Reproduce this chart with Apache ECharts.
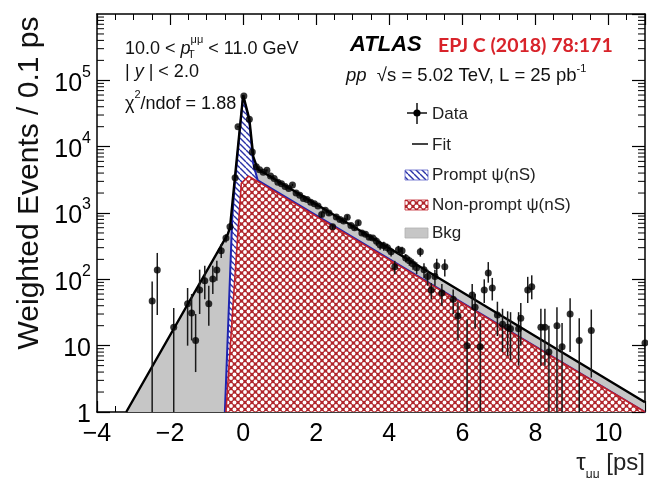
<!DOCTYPE html>
<html>
<head>
<meta charset="utf-8">
<script src="https://cdn.jsdelivr.net/npm/echarts@6/dist/echarts.min.js"></script>
<style>
  html, body { margin: 0; padding: 0; background: #fff; }
  #chart { width: 648px; height: 478px; }
</style>
</head>
<body>
<div id="chart"></div>
<script>
// Fit components (knots of the drawn curves, log-linear between knots)
const fitX        = [-3.2, -0.42, -0.36, -0.23, 0.0, 0.17, 0.28, 0.4, 11.0];
const fitY        = [1.0, 480, 600, 3200, 60000, 26000, 7000, 4600, 1.4];
const promptTopX  = [-0.5, -0.3, -0.23, 0.0, 0.17, 0.28, 0.4, 11.0];
const promptTopY  = [1.0, 800, 2700, 58000, 24000, 5500, 3100, 1.0];
const nonPromptX  = [-0.47, -0.26, -0.05, 0.15, 11.0];
const nonPromptY  = [1.0, 56, 2800, 3600, 1.0];

// Data points with asymmetric error bars
const dataX = [
  -2.49, -2.35, -1.90, -1.52, -1.41, -1.30, -1.19, -1.05, -0.94, -0.83, -0.72, -0.60, -0.47, -0.36,
  -0.22, -0.14, 0.02, 0.17, 0.25, 0.36,
  0.45, 0.55, 0.65, 0.75, 0.85, 0.95, 1.05, 1.15, 1.25, 1.35, 1.45, 1.55, 1.65, 1.75, 1.85, 1.95,
  2.05, 2.15, 2.25, 2.35, 2.45, 2.55, 2.65, 2.75, 2.85, 2.95, 3.05, 3.15, 3.25, 3.35, 3.45, 3.55,
  3.65, 3.75, 3.85, 3.95, 4.05, 4.15, 4.25, 4.35, 4.45, 4.55, 4.65, 4.75, 4.85, 4.95, 5.05, 5.15, 5.25,
  5.30, 5.44, 5.52, 5.75, 5.88, 6.13, 6.27, 6.35, 6.49, 6.60, 6.71, 6.82, 6.96, 7.10, 7.24, 7.32,
  7.54, 7.60, 7.79, 7.90, 8.15, 8.26, 8.37, 8.59, 8.73, 8.95, 9.20, 9.53, 11.0
];
const dataY = [
  47, 138, 19, 43, 31, 12, 69, 95, 43, 101, 138, 270, 420, 620,
  3400, 20000, 58000, 26000, 8300, 5000,
  4500, 4100, 4400, 3600, 3300, 2900, 2750, 2500, 2350, 2650, 2000, 1850, 1650, 1600, 1450, 1380,
  1280, 950, 1100, 1000, 620, 870, 800, 760, 860, 650, 600, 710, 500, 480, 430, 420,
  375, 330, 320, 300, 260, 155, 280, 270, 210, 190, 170, 150, 260, 140, 110, 69, 110,
  160, 62, 155, 50, 28, 10, 58, 38, 9.6, 69, 125, 74, 29, 21, 19, 18,
  18, 26, 69, 77, 19, 19, 8, 20, 9.6, 30, 12, 17, 11
];
const errLo = [
  0.5, 29, 0.5, 10, 12, 4, 30, 50, 20, 60, 95, 210, 360, 560,
  3250, 19500, 57000, 25400, 8050, 4800,
  4320, 3940, 4220, 3460, 3170, 2780, 2640, 2400, 2260, 2540, 1920, 1780, 1580, 1540, 1390, 1320,
  1230, 870, 1050, 920, 570, 800, 740, 700, 790, 600, 550, 650, 460, 440, 395, 385,
  320, 280, 270, 255, 220, 120, 240, 230, 180, 160, 140, 120, 220, 105, 80, 50, 80,
  115, 40, 110, 30, 12, 0.5, 35, 18, 0.5, 44, 89, 48, 14, 8, 7, 6,
  5, 10, 44, 50, 5, 5, 0.5, 0.5, 0.5, 8, 0.5, 3.3, 2
];
const errHi = [
  93, 250, 37, 74, 60, 30, 140, 160, 80, 160, 190, 340, 480, 690,
  3550, 20500, 59000, 26600, 8550, 5200,
  4680, 4260, 4580, 3740, 3430, 3020, 2860, 2600, 2440, 2760, 2080, 1920, 1720, 1660, 1510, 1440,
  1330, 1030, 1150, 1080, 670, 940, 860, 820, 930, 700, 650, 770, 540, 520, 465, 455,
  430, 380, 370, 345, 300, 190, 320, 310, 240, 220, 200, 180, 300, 175, 140, 88, 140,
  205, 85, 200, 70, 45, 25, 85, 60, 24, 100, 182, 105, 46, 36, 33, 32,
  32, 44, 109, 115, 36, 36, 20, 38, 22, 52, 26, 35, 22
];

const X_MIN = -4, X_MAX = 11, Y_MIN = 1, Y_MAX = 1e6;
const FONT = '"Liberation Sans", Arial, Helvetica, sans-serif';

function pairs(xs, ys) { return xs.map((x, i) => [x, ys[i]]); }

// Fill patterns
function redMesh() {
  const s = 7;
  const c = document.createElement('canvas');
  c.width = s; c.height = s;
  const g = c.getContext('2d');
  g.fillStyle = '#b0262c';
  g.fillRect(0, 0, s, s);
  g.fillStyle = '#ffffff';
  [[0, 0], [s, 0], [0, s], [s, s], [s / 2, s / 2]].forEach(([x, y]) => {
    g.beginPath(); g.arc(x, y, 1.9, 0, Math.PI * 2); g.fill();
  });
  return c;
}
function blueHatch() {
  const c = document.createElement('canvas');
  c.width = 6; c.height = 6;
  const g = c.getContext('2d');
  g.fillStyle = '#ffffff';
  g.fillRect(0, 0, 6, 6);
  g.strokeStyle = '#2a32a8';
  g.lineWidth = 1.4;
  [-6, 0, 6].forEach(k => {
    g.beginPath(); g.moveTo(k, 0); g.lineTo(k + 6, 6); g.stroke();
  });
  return c;
}
const redPattern = { image: redMesh(), repeat: 'repeat' };
const bluePattern = { image: blueHatch(), repeat: 'repeat' };
const redPattern2 = { image: redMesh(), repeat: 'repeat' };
const bluePattern2 = { image: blueHatch(), repeat: 'repeat' };

// Minor tick values for the log axis (2..9 in each decade)
const minorLogTicks = [];
for (let e = 0; e < 6; e++) for (let m = 2; m <= 9; m++) minorLogTicks.push([X_MIN, m * Math.pow(10, e)]);

const chart = echarts.init(document.getElementById('chart'), null, { renderer: 'canvas' });

const axisLineStyle = { lineStyle: { color: '#000', width: 1.5 } };

const option = {
  animation: false,
  backgroundColor: '#fff',
  grid: { left: 97, top: 14, width: 548, height: 398, show: false },
  xAxis: [
    {
      type: 'value', min: X_MIN, max: X_MAX, interval: 2, position: 'bottom',
      axisLine: { show: true, onZero: false, ...axisLineStyle },
      axisTick: { show: true, inside: true, length: 11, lineStyle: { color: '#000', width: 1.2 } },
      minorTick: { show: true, splitNumber: 4, length: 6, lineStyle: { color: '#000', width: 1 } },
      splitLine: { show: false },
      axisLabel: {
        margin: 10, fontFamily: FONT, fontSize: 25, color: '#000', showMaxLabel: false,
        formatter: v => (v < 0 ? '\u2212' + Math.abs(v) : String(v))
      }
    },
    {
      type: 'value', min: X_MIN, max: X_MAX, interval: 2, position: 'top',
      axisLine: { show: true, onZero: false, ...axisLineStyle },
      axisTick: { show: true, inside: true, length: 11, lineStyle: { color: '#000', width: 1.2 } },
      minorTick: { show: true, splitNumber: 4, length: 6, lineStyle: { color: '#000', width: 1 } },
      splitLine: { show: false },
      axisLabel: { show: false }
    }
  ],
  yAxis: [
    {
      type: 'log', logBase: 10, min: Y_MIN, max: Y_MAX, interval: 1, position: 'left',
      axisLine: { show: true, onZero: false, ...axisLineStyle },
      axisTick: { show: true, inside: true, length: 13, lineStyle: { color: '#000', width: 1.2 } },
      splitLine: { show: false },
      axisLabel: {
        margin: 6, color: '#000', showMaxLabel: false,
        formatter: v => {
          const e = Math.round(Math.log10(v));
          if (e === 0) return '{b|1}';
          if (e === 1) return '{b|10}';
          return '{b|10}{s|' + e + '}';
        },
        rich: {
          b: { fontFamily: FONT, fontSize: 25, color: '#000', lineHeight: 32, verticalAlign: 'bottom' },
          s: { fontFamily: FONT, fontSize: 16, color: '#000', lineHeight: 18, verticalAlign: 'top' }
        }
      }
    },
    {
      type: 'log', logBase: 10, min: Y_MIN, max: Y_MAX, interval: 1, position: 'right',
      axisLine: { show: true, onZero: false, ...axisLineStyle },
      axisTick: { show: true, inside: true, length: 13, lineStyle: { color: '#000', width: 1.2 } },
      splitLine: { show: false },
      axisLabel: { show: false }
    }
  ],
  series: [
    {
      name: 'Bkg', type: 'line', data: pairs(fitX, fitY), symbol: 'none', z: 1,
      lineStyle: { width: 0 },
      areaStyle: { color: '#c6c6c6', opacity: 1, origin: 1 },
      silent: true
    },
    {
      name: 'Prompt ψ(nS)', type: 'line', data: pairs(promptTopX, promptTopY), symbol: 'none', z: 2,
      lineStyle: { color: '#1d24b0', width: 2 },
      areaStyle: { color: bluePattern, opacity: 1, origin: 1 },
      silent: true
    },
    {
      name: 'Non-prompt ψ(nS)', type: 'line', data: pairs(nonPromptX, nonPromptY), symbol: 'none', z: 3,
      lineStyle: { color: '#c0202a', width: 1.6 },
      areaStyle: { color: redPattern, opacity: 1, origin: 1 },
      silent: true
    },
    {
      name: 'Fit', type: 'line', data: pairs(fitX, fitY), symbol: 'none', z: 4,
      lineStyle: { color: '#000', width: 2.4 },
      silent: true
    },
    {
      name: 'Data errors', type: 'custom', z: 5, clip: true, silent: true,
      data: dataX.map((x, i) => [x, errLo[i], errHi[i]]),
      encode: { x: 0, y: [1, 2] },
      renderItem: (params, api) => {
        const lo = api.coord([api.value(0), api.value(1)]);
        const hi = api.coord([api.value(0), api.value(2)]);
        return {
          type: 'line',
          shape: { x1: lo[0], y1: lo[1], x2: hi[0], y2: hi[1] },
          style: { stroke: '#1a1a1a', lineWidth: 1.5 }
        };
      }
    },
    {
      name: 'Data', type: 'scatter', z: 6, clip: true, silent: true,
      data: pairs(dataX, dataY), symbol: 'circle', symbolSize: 7,
      itemStyle: { color: '#000' }
    },
    {
      name: 'minor ticks', type: 'custom', z: 7, silent: true,
      data: minorLogTicks,
      renderItem: (params, api) => {
        const l = api.coord([X_MIN, api.value(1)]);
        const r = api.coord([X_MAX, api.value(1)]);
        return {
          type: 'group',
          children: [
            { type: 'line', shape: { x1: l[0], y1: l[1], x2: l[0] + 7, y2: l[1] }, style: { stroke: '#000', lineWidth: 1 } },
            { type: 'line', shape: { x1: r[0] - 7, y1: r[1], x2: r[0], y2: r[1] }, style: { stroke: '#000', lineWidth: 1 } }
          ]
        };
      }
    }
  ],
  graphic: [
    // axis titles
    {
      type: 'text', x: 30, y: 183, rotation: Math.PI / 2, z: 100,
      style: { text: 'Weighted Events / 0.1 ps', font: '30px ' + FONT, fill: '#111', align: 'center', verticalAlign: 'middle' }
    },
    {
      type: 'text', x: 645, y: 466, z: 100,
      style: {
        text: '{n|τ}{u|μμ}{n| [ps]}', align: 'right', verticalAlign: 'middle',
        rich: {
          n: { fontFamily: FONT, fontSize: 24, fill: '#222', lineHeight: 30, verticalAlign: 'top' },
          u: { fontFamily: FONT, fontSize: 12, fill: '#222', lineHeight: 12, verticalAlign: 'bottom' }
        }
      }
    },
    // kinematic labels
    {
      type: 'text', x: 125, y: 46, z: 100,
      style: {
        text: '{n|10.0 < }{i|p}{s|μμ}{n| < 11.0 GeV}', align: 'left', verticalAlign: 'middle',
        rich: {
          n: { fontFamily: FONT, fontSize: 18, fill: '#111', lineHeight: 24, verticalAlign: 'bottom' },
          i: { fontFamily: FONT, fontSize: 18, fontStyle: 'italic', fill: '#111', lineHeight: 24, verticalAlign: 'bottom' },
          s: { fontFamily: FONT, fontSize: 11, fill: '#111', lineHeight: 12, verticalAlign: 'top' }
        }
      }
    },
    {
      type: 'text', x: 188, y: 55, z: 100,
      style: { text: 'T', font: '11px ' + FONT, fill: '#111', align: 'left', verticalAlign: 'middle' }
    },
    {
      type: 'text', x: 125, y: 72, z: 100,
      style: {
        text: '{n|| }{i|y}{n| | < 2.0}', align: 'left', verticalAlign: 'middle',
        rich: {
          n: { fontFamily: FONT, fontSize: 18, fill: '#111' },
          i: { fontFamily: FONT, fontSize: 18, fontStyle: 'italic', fill: '#111' }
        }
      }
    },
    {
      type: 'text', x: 125, y: 101, z: 100,
      style: {
        text: '{n|χ}{s|2}{n|/ndof = 1.88}', align: 'left', verticalAlign: 'middle',
        rich: {
          n: { fontFamily: FONT, fontSize: 18, fill: '#111', lineHeight: 24, verticalAlign: 'bottom' },
          s: { fontFamily: FONT, fontSize: 11, fill: '#111', lineHeight: 12, verticalAlign: 'top' }
        }
      }
    },
    {
      type: 'text', x: 350, y: 45, z: 100,
      style: { text: 'ATLAS', font: 'italic bold 22px ' + FONT, fill: '#000', align: 'left', verticalAlign: 'middle' }
    },
    {
      type: 'text', x: 438, y: 46, z: 100,
      style: { text: 'EPJ C (2018) 78:171', font: 'bold 19.5px Lato, "Open Sans", sans-serif', fill: '#d8232a', align: 'left', verticalAlign: 'middle' }
    },
    {
      type: 'text', x: 346, y: 74, z: 100,
      style: {
        text: '{i|pp}{n|  √s = 5.02 TeV, L = 25 pb}{s|-1}', align: 'left', verticalAlign: 'middle',
        rich: {
          n: { fontFamily: FONT, fontSize: 18.5, fill: '#111', lineHeight: 22, verticalAlign: 'bottom' },
          i: { fontFamily: FONT, fontSize: 18.5, fontStyle: 'italic', fill: '#111', lineHeight: 22, verticalAlign: 'bottom' },
          s: { fontFamily: FONT, fontSize: 11, fill: '#111', lineHeight: 12, verticalAlign: 'top' }
        }
      }
    },
    // legend
    { type: 'line', z: 100, shape: { x1: 407, y1: 113, x2: 427, y2: 113 }, style: { stroke: '#111', lineWidth: 1.5 } },
    { type: 'line', z: 100, shape: { x1: 417, y1: 103, x2: 417, y2: 124 }, style: { stroke: '#111', lineWidth: 1.5 } },
    { type: 'circle', z: 100, shape: { cx: 417, cy: 113, r: 3.6 }, style: { fill: '#000' } },
    { type: 'text', z: 100, x: 432, y: 114, style: { text: 'Data', font: '17px ' + FONT, fill: '#222', align: 'left', verticalAlign: 'middle' } },
    { type: 'line', z: 100, shape: { x1: 412, y1: 144, x2: 428, y2: 144 }, style: { stroke: '#444', lineWidth: 2 } },
    { type: 'text', z: 100, x: 432, y: 145, style: { text: 'Fit', font: '17px ' + FONT, fill: '#222', align: 'left', verticalAlign: 'middle' } },
    { type: 'rect', z: 100, shape: { x: 405, y: 170, width: 23, height: 10 }, style: { fill: bluePattern2, stroke: '#5a60c8', lineWidth: 0.8 } },
    { type: 'text', z: 100, x: 432, y: 175, style: { text: 'Prompt ψ(nS)', font: '17px ' + FONT, fill: '#222', align: 'left', verticalAlign: 'middle' } },
    { type: 'rect', z: 100, shape: { x: 405, y: 200, width: 23, height: 10 }, style: { fill: redPattern2, stroke: '#c0202a', lineWidth: 0.8 } },
    { type: 'text', z: 100, x: 432, y: 205, style: { text: 'Non-prompt ψ(nS)', font: '17px ' + FONT, fill: '#222', align: 'left', verticalAlign: 'middle' } },
    { type: 'rect', z: 100, shape: { x: 405, y: 228, width: 23, height: 10 }, style: { fill: '#c6c6c6', stroke: '#b0b0b0', lineWidth: 0.8 } },
    { type: 'text', z: 100, x: 432, y: 233, style: { text: 'Bkg', font: '17px ' + FONT, fill: '#222', align: 'left', verticalAlign: 'middle' } }
  ]
};

chart.setOption(option);
</script>
</body>
</html>
